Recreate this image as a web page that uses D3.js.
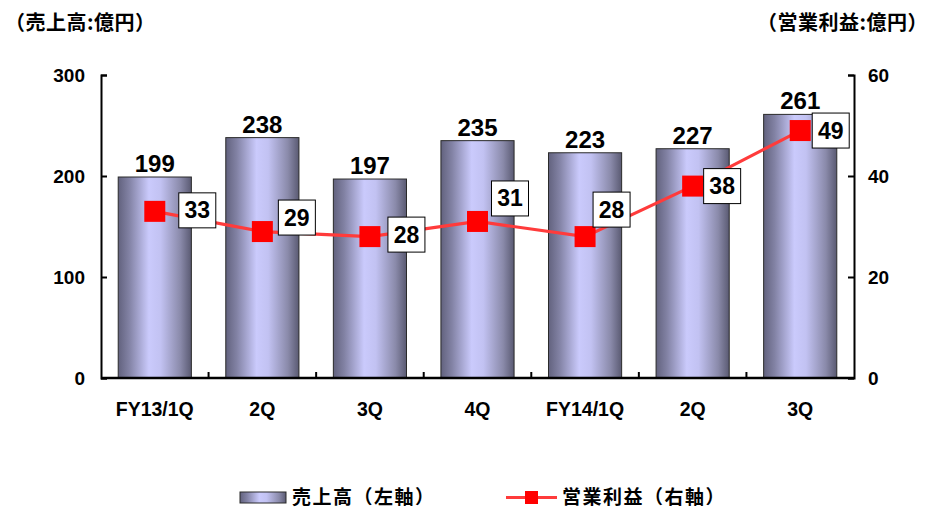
<!DOCTYPE html>
<html><head><meta charset="utf-8">
<script src="https://cdn.jsdelivr.net/npm/d3@7"></script>
<style>
body{margin:0;background:#fff;}
svg{display:block;font-family:"Liberation Sans",Arial,sans-serif;}
.jp{font-family:"Noto Sans CJK JP","Noto Sans",sans-serif;font-weight:700;}
</style></head><body>
<svg id="c" width="931" height="510"></svg>
<script>
const categories = ["FY13/1Q","2Q","3Q","4Q","FY14/1Q","2Q","3Q"];
const sales = [199,238,197,235,223,227,261];
const profit = [33,29,28,31,28,38,49];
const leftTicks = [0,100,200,300];
const rightTicks = [0,20,40,60];
const leftTitle = "（売上高:億円）";
const rightTitle = "（営業利益:億円）";
const legendSales = "売上高（左軸）";
const legendProfit = "営業利益（右軸）";
// label box nudges (layout only)
const boxNudge = [[24,-1],[16,-14],[18,-2],[14,-23],[8,-27],[11,0],[12,0]];

const svg = d3.select("#c");
const L=101, R=854, T=75, B=378;
const keys = categories.map((c,i)=>i);
const x = d3.scaleBand().domain(keys).range([L,R]).paddingInner(0.32).paddingOuter(0.16);
const yL = d3.scaleLinear().domain([0,300]).range([B,T]);
const yR = d3.scaleLinear().domain([0,60]).range([B,T]);

const defs = svg.append("defs");
const g = defs.append("linearGradient").attr("id","barg").attr("x1","0").attr("x2","1").attr("y1","0").attr("y2","0");
[[0,"#62627e"],[0.15,"#8282a4"],[0.42,"#cacafc"],[0.58,"#c2c2f2"],[0.85,"#8a8aaa"],[1,"#5a5a72"]].forEach(s=>g.append("stop").attr("offset",s[0]).attr("stop-color",s[1]));

// bars
svg.append("g").selectAll("rect").data(sales).join("rect")
  .attr("x",(d,i)=>x(i)).attr("width",x.bandwidth())
  .attr("y",d=>yL(d)).attr("height",d=>B-yL(d))
  .attr("fill","url(#barg)").attr("stroke","#2a2a2a").attr("stroke-width",1);

// bar labels
svg.append("g").selectAll("text").data(sales).join("text")
  .attr("x",(d,i)=>x(i)+x.bandwidth()/2).attr("y",d=>yL(d)-5)
  .attr("text-anchor","middle").attr("font-size",24).attr("font-weight",700).text(d=>d);

// axes
const axL = svg.append("g").attr("transform",`translate(${L},0)`)
  .call(d3.axisLeft(yL).tickValues(leftTicks).tickSize(-6).tickPadding(16));
const axR = svg.append("g").attr("transform",`translate(${R},0)`)
  .call(d3.axisRight(yR).tickValues(rightTicks).tickSize(-6).tickPadding(14));
[axL,axR].forEach(a=>{
  a.select(".domain").attr("stroke","#000").attr("stroke-width",2);
  a.selectAll(".tick line").attr("stroke","#000").attr("stroke-width",2);
  a.selectAll("text").attr("font-size",19).attr("font-weight",700).attr("fill","#000")
   .attr("font-family","Liberation Sans, Arial, sans-serif");
});
// x axis
const xa = svg.append("g");
xa.append("line").attr("x1",L).attr("x2",R).attr("y1",B).attr("y2",B).attr("stroke","#000").attr("stroke-width",2.5);
const step = x.step();
xa.selectAll("line.t").data(keys.slice(1)).join("line").attr("class","t")
  .attr("x1",i=>x(i)-step*0.16).attr("x2",i=>x(i)-step*0.16)
  .attr("y1",B).attr("y2",B-6).attr("stroke","#000").attr("stroke-width",2);
xa.selectAll("text").data(categories).join("text")
  .attr("x",(d,i)=>x(i)+x.bandwidth()/2).attr("y",416)
  .attr("text-anchor","middle").attr("font-size",19.5).attr("font-weight",700).text(d=>d);

// line
const cx = i=>x(i)+x.bandwidth()/2;
svg.append("path").datum(profit)
  .attr("d",d3.line().x((d,i)=>cx(i)).y(d=>yR(d)))
  .attr("fill","none").attr("stroke","#ff3b3b").attr("stroke-width",3.2);
svg.append("g").selectAll("rect").data(profit).join("rect")
  .attr("x",(d,i)=>cx(i)-10.5).attr("y",d=>yR(d)-10.5).attr("width",21).attr("height",21).attr("fill","#ff0000");

// value boxes
const bw=37, bh=35;
const lb = svg.append("g").selectAll("g").data(profit).join("g")
  .attr("transform",(d,i)=>`translate(${cx(i)+boxNudge[i][0]},${yR(d)+boxNudge[i][1]-bh/2})`);
lb.append("rect").attr("width",bw).attr("height",bh).attr("fill","#fff").attr("stroke","#000").attr("stroke-width",1);
lb.append("text").attr("x",bw/2).attr("y",bh/2+8).attr("text-anchor","middle")
  .attr("font-size",23).attr("font-weight",700).text(d=>d);

// titles
svg.append("text").attr("class","jp").attr("x",5).attr("y",30).attr("font-size",20).attr("letter-spacing",0.5).text(leftTitle);
svg.append("text").attr("class","jp").attr("x",928).attr("y",30).attr("text-anchor","end").attr("font-size",20).attr("letter-spacing",0.5).text(rightTitle);

// legend
svg.append("rect").attr("x",240).attr("y",492).attr("width",46).attr("height",11)
  .attr("fill","url(#barg)").attr("stroke","#2a2a2a").attr("stroke-width",1);
svg.append("text").attr("class","jp").attr("x",292).attr("y",503.5).attr("font-size",19).attr("letter-spacing",1.5).text(legendSales);
svg.append("line").attr("x1",506).attr("x2",557).attr("y1",497.5).attr("y2",497.5).attr("stroke","#ff3b3b").attr("stroke-width",3);
svg.append("rect").attr("x",525).attr("y",491).attr("width",13).attr("height",13).attr("fill","#ff0000");
svg.append("text").attr("class","jp").attr("x",562).attr("y",503.5).attr("font-size",19).attr("letter-spacing",1.5).text(legendProfit);
</script></body></html>
